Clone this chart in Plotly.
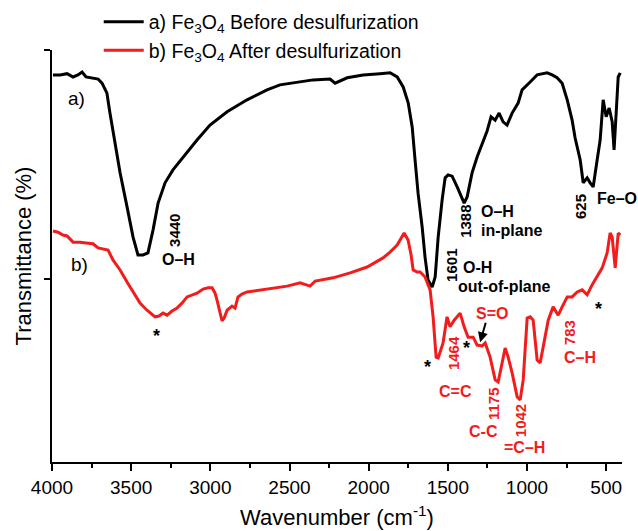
import plotly.graph_objects as go

# Curve a) Fe3O4 before desulfurization
wn_a = [3994, 3949, 3905, 3867, 3836, 3810, 3785, 3741, 3709, 3684, 3653, 3634, 3602, 3570, 3526,
        3488, 3457, 3425, 3394, 3362, 3330, 3286, 3236, 3172, 3084, 3002, 2894, 2768, 2642, 2560,
        2452, 2351, 2244, 2212, 2136, 2035, 1928, 1865, 1820, 1782, 1750, 1725, 1707, 1688, 1662,
        1644, 1625, 1599, 1580, 1561, 1536, 1517, 1498, 1473, 1441, 1410, 1397, 1378, 1347, 1315,
        1284, 1252, 1227, 1201, 1176, 1151, 1126, 1094, 1056, 1031, 980, 936, 873, 841, 810,
        778, 746, 715, 696, 664, 645, 620, 601, 582, 557, 538, 519, 500, 481, 462,
        450, 437, 424, 411]
t_a = [94.0, 94.0, 94.3, 93.5, 94.0, 94.7, 93.5, 93.3, 93.0, 92.0, 89.6, 84.8, 77.6, 70.4, 62.2,
       54.9, 50.6, 50.6, 51.1, 56.6, 63.1, 68.0, 71.1, 74.2, 78.3, 81.9, 85.1, 88.0, 90.4, 91.6,
       92.3, 92.8, 93.0, 92.0, 93.3, 94.0, 94.3, 94.5, 93.5, 91.1, 87.2, 81.4, 73.5, 65.5, 57.3,
       50.1, 44.6, 42.9, 45.3, 54.9, 63.9, 69.2, 69.9, 69.6, 67.0, 63.9, 63.1, 64.6, 70.4, 74.2,
       77.1, 80.5, 83.9, 83.1, 84.8, 82.7, 81.9, 84.8, 87.2, 90.4, 92.3, 94.0, 94.5, 94.0, 93.3,
       92.0, 88.0, 83.1, 78.8, 73.5, 68.0, 69.2, 68.0, 67.0, 73.5, 78.3, 88.0, 83.9, 86.0, 82.7,
       75.9, 83.9, 93.5, 94.5]

# Curve b) Fe3O4 after desulfurization
wn_b = [3994, 3962, 3931, 3905, 3867, 3823, 3785, 3741, 3709, 3678, 3646, 3615, 3570, 3526, 3482,
        3444, 3400, 3375, 3349, 3324, 3299, 3273, 3242, 3210, 3179, 3147, 3116, 3084, 3046, 3014,
        2989, 2970, 2958, 2939, 2926, 2913, 2894, 2863, 2844, 2825, 2800, 2768, 2686, 2604, 2515,
        2433, 2370, 2338, 2225, 2117, 2010, 1909, 1865, 1820, 1776, 1751, 1732, 1719, 1694, 1675,
        1644, 1612, 1593, 1574, 1561, 1530, 1505, 1486, 1460, 1422, 1397, 1372, 1340, 1315, 1283,
        1264, 1233, 1201, 1182, 1157, 1138, 1119, 1094, 1062, 1043, 1024, 999, 980, 961, 936,
        917, 898, 866, 835, 803, 778, 746, 715, 683, 652, 620, 589, 557, 525, 494,
        475, 462, 443, 424, 411]
t_b = [56.4, 56.1, 55.4, 55.2, 53.7, 53.7, 53.5, 53.3, 52.3, 52.0, 51.8, 49.4, 47.0, 44.1, 41.4,
       39.0, 37.3, 36.6, 35.7, 35.9, 36.6, 36.1, 37.1, 37.8, 39.0, 40.5, 41.0, 41.4, 42.4, 42.7,
       42.7, 41.4, 39.8, 36.6, 34.7, 35.4, 37.3, 38.3, 37.8, 40.5, 41.2, 41.7, 42.2, 42.7, 43.1,
       43.9, 43.1, 44.3, 45.1, 46.3, 47.7, 49.9, 51.3, 53.0, 55.9, 54.2, 50.6, 47.0, 46.5, 46.5,
       45.3, 42.2, 35.7, 26.0, 25.8, 29.4, 35.7, 33.3, 34.9, 36.6, 33.3, 30.8, 30.8, 28.9, 28.7,
       29.4, 26.0, 20.5, 20.0, 24.6, 28.2, 26.0, 22.2, 16.4, 15.7, 20.5, 35.4, 35.7, 34.9, 25.3,
       24.6, 28.4, 34.9, 38.1, 36.1, 38.1, 40.5, 40.5, 41.7, 42.2, 41.0, 43.4, 45.3, 47.5, 51.1,
       55.9, 54.9, 47.5, 55.9, 55.4]

x_ticks = [4000, 3500, 3000, 2500, 2000, 1500, 1000, 500]
x_ticklabels = ["4000", "3500", "3000", "2500", "2000", "1500", "1000", "500"]
y_ticks = [44.8, 100]

BLACK = "#000000"
RED = "#f21c1c"
FONT = "Arial, Liberation Sans, sans-serif"

fig = go.Figure()
fig.add_trace(go.Scatter(x=wn_a, y=t_a, mode="lines",
                         line=dict(color=BLACK, width=3),
                         name="a) Fe<sub>3</sub>O<sub>4</sub> Before desulfurization"))
fig.add_trace(go.Scatter(x=wn_b, y=t_b, mode="lines",
                         line=dict(color=RED, width=3),
                         name="b) Fe<sub>3</sub>O<sub>4</sub> After desulfurization"))

ann = []

def txt(x, y, s, color=BLACK, size=16, bold=True, angle=0):
    ann.append(dict(x=x, y=y, xref="x", yref="y", text=(f"<b>{s}</b>" if bold else s),
                    showarrow=False, textangle=angle,
                    font=dict(family=FONT, size=size, color=color)))

txt(3848, 88.4, "a)", size=19, bold=False)
txt(3829, 48.2, "b)", size=19, bold=False)
txt(3223, 56.4, "3440", size=15, angle=-90)
txt(3198, 49.4, "O–H")
txt(3343, 31.0, "*", size=18)
txt(1473, 48.0, "1601", size=15, angle=-90)
txt(1315, 47.7, "O-H")
txt(1144, 43.1, "out-of-plane")
txt(1385, 58.6, "1388", size=15, angle=-90)
txt(1189, 61.0, "O–H")
txt(1100, 56.6, "in-plane")
txt(658, 62.2, "625", size=15, angle=-90)
txt(431, 64.1, "Fe–O")
txt(1460, 27.0, "1464", color=RED, size=15, angle=-90)
txt(1454, 17.8, "C=C", color=RED)
txt(1631, 23.5, "*", size=18)
txt(1385, 28.1, "*", size=18)
txt(551, 37.5, "*", size=18)
txt(1220, 36.6, "S=O", color=RED)
txt(1208, 14.7, "1175", color=RED, size=15, angle=-90)
txt(1277, 8.0, "C-C", color=RED)
txt(1043, 10.6, "1042", color=RED, size=15, angle=-90)
txt(1018, 4.1, "=C–H", color=RED)
txt(734, 31.8, "783", color=RED, size=15, angle=-90)
txt(664, 26.0, "C–H", color=RED)
ann.append(dict(x=1296, y=29.6, xref="x", yref="y", ax=6, ay=-21, text="",
                showarrow=True, arrowhead=2, arrowsize=1, arrowwidth=2, arrowcolor=BLACK))

fig.update_layout(
    width=638, height=531,
    margin=dict(l=52, r=16, t=50, b=69, autoexpand=False),
    paper_bgcolor="white", plot_bgcolor="white",
    font=dict(family=FONT, color=BLACK),
    showlegend=True,
    legend=dict(x=0.082, y=1.115, xanchor="left", yanchor="top",
                font=dict(family=FONT, size=19.5, color=BLACK),
                bgcolor="rgba(0,0,0,0)", tracegroupgap=0, itemwidth=40),
    annotations=ann,
)
fig.update_xaxes(range=[4000, 400], tickvals=x_ticks, ticktext=x_ticklabels,
                 showline=True, linecolor=BLACK, linewidth=2, mirror=False,
                 ticks="outside", ticklen=7, tickwidth=2, tickcolor=BLACK,
                 minor=dict(ticks="outside", dtick=250, tick0=4000, ticklen=4, tickwidth=2, tickcolor=BLACK),
                 showgrid=False, zeroline=False,
                 tickfont=dict(family=FONT, size=19, color=BLACK),
                 title=dict(text="Wavenumber (cm<sup>-1</sup>)", standoff=13,
                            font=dict(family=FONT, size=22, color=BLACK)),
                 automargin=False)
fig.update_yaxes(range=[0.72, 100], tickvals=y_ticks, showticklabels=False,
                 showline=True, linecolor=BLACK, linewidth=2,
                 ticks="outside", ticklen=6, tickwidth=2, tickcolor=BLACK,
                 showgrid=False, zeroline=False,
                 title=dict(text="Transmittance (%)", standoff=6,
                            font=dict(family=FONT, size=22, color=BLACK)),
                 automargin=False)

fig.write_html("out.html")
